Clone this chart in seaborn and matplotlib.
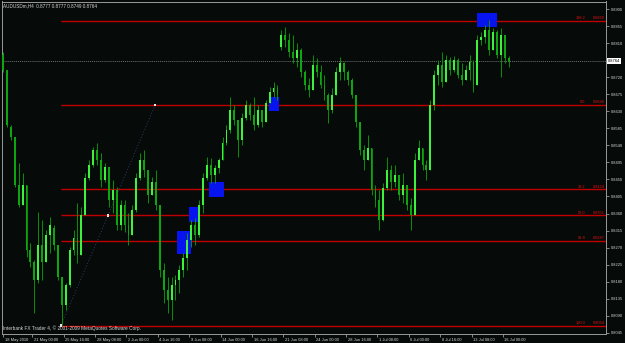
import matplotlib
matplotlib.use("Agg")
import matplotlib.pyplot as plt
import matplotlib.transforms as mtrans
from matplotlib.patches import Rectangle
import numpy as np
import pandas as pd
import seaborn as sns

# ---------------- data ----------------
symbol_title = "AUDUSDm,H4  0.8777 0.8777 0.8749 0.8764"
copyright_text = "Interbank FX Trader 4, \u00a9 2001-2009 MetaQuotes Software Corp."

bar_number = list(range(0, 260, 2))  # H4 bar position of each candle

highs = [0.8787, 0.8739, 0.8594, 0.8562, 0.8494, 0.8467, 0.8436, 0.8282, 0.8238, 0.8364,
         0.8343, 0.8317, 0.8351, 0.8330, 0.8277, 0.8193, 0.8177, 0.8272, 0.8317, 0.8388,
         0.8378, 0.8467, 0.8502, 0.8536, 0.8546, 0.8520, 0.8494, 0.8483, 0.8449, 0.8430,
         0.8396, 0.8396, 0.8362, 0.8383, 0.8467, 0.8520, 0.8528, 0.8475, 0.8457, 0.8475,
         0.8383, 0.8230, 0.8193, 0.8193, 0.8198, 0.8225, 0.8256, 0.8309, 0.8343, 0.8348,
         0.8396, 0.8467, 0.8510, 0.8507, 0.8488, 0.8507, 0.8562, 0.8594, 0.8668, 0.8647,
         0.8607, 0.8626, 0.8660, 0.8652, 0.8668, 0.8647, 0.8634, 0.8660, 0.8694, 0.8708,
         0.8700, 0.8845, 0.8853, 0.8837, 0.8832, 0.8811, 0.8797, 0.8739, 0.8718, 0.8779,
         0.8771, 0.8752, 0.8726, 0.8679, 0.8692, 0.8747, 0.8774, 0.8761, 0.8739, 0.8718,
         0.8673, 0.8602, 0.8541, 0.8568, 0.8533, 0.8436, 0.8422, 0.8441, 0.8510, 0.8488,
         0.8488, 0.8462, 0.8467, 0.8436, 0.8401, 0.8520, 0.8554, 0.8533, 0.8502, 0.8660,
         0.8739, 0.8766, 0.8787, 0.8779, 0.8774, 0.8776, 0.8771, 0.8758, 0.8752, 0.8779,
         0.8766, 0.8832, 0.8840, 0.8858, 0.8871, 0.8850, 0.8845, 0.8850, 0.8832, 0.8777]
lows = [0.8734, 0.8589, 0.8554, 0.8430, 0.8378, 0.8383, 0.8246, 0.8219, 0.8098, 0.8177,
        0.8185, 0.8232, 0.8256, 0.8264, 0.8185, 0.8066, 0.8106, 0.8166, 0.8251, 0.8230,
        0.8251, 0.8356, 0.8449, 0.8483, 0.8488, 0.8430, 0.8444, 0.8378, 0.8362, 0.8317,
        0.8317, 0.8312, 0.8277, 0.8304, 0.8364, 0.8449, 0.8457, 0.8388, 0.8409, 0.8370,
        0.8193, 0.8124, 0.8098, 0.8079, 0.8132, 0.8150, 0.8193, 0.8211, 0.8272, 0.8277,
        0.8298, 0.8362, 0.8449, 0.8441, 0.8441, 0.8467, 0.8502, 0.8541, 0.8573, 0.8594,
        0.8510, 0.8541, 0.8607, 0.8607, 0.8581, 0.8589, 0.8589, 0.8602, 0.8652, 0.8668,
        0.8660, 0.8792, 0.8800, 0.8774, 0.8758, 0.8747, 0.8721, 0.8686, 0.8668, 0.8686,
        0.8721, 0.8692, 0.8660, 0.8599, 0.8626, 0.8673, 0.8713, 0.8713, 0.8700, 0.8665,
        0.8589, 0.8515, 0.8475, 0.8502, 0.8409, 0.8378, 0.8317, 0.8340, 0.8422, 0.8422,
        0.8430, 0.8396, 0.8388, 0.8370, 0.8317, 0.8356, 0.8502, 0.8475, 0.8449, 0.8475,
        0.8634, 0.8700, 0.8694, 0.8708, 0.8726, 0.8734, 0.8718, 0.8700, 0.8713, 0.8713,
        0.8681, 0.8700, 0.8805, 0.8811, 0.8779, 0.8792, 0.8771, 0.8721, 0.8758, 0.8747]
opens = [0.8779, 0.8739, 0.8589, 0.8562, 0.8436, 0.8383, 0.8436, 0.8264, 0.8232, 0.8185,
         0.8277, 0.8232, 0.8304, 0.8322, 0.8277, 0.8193, 0.8119, 0.8172, 0.8264, 0.8296,
         0.8251, 0.8356, 0.8454, 0.8488, 0.8528, 0.8502, 0.8449, 0.8483, 0.8396, 0.8422,
         0.8330, 0.8383, 0.8330, 0.8304, 0.8370, 0.8454, 0.8502, 0.8475, 0.8409, 0.8444,
         0.8383, 0.8211, 0.8158, 0.8132, 0.8172, 0.8185, 0.8211, 0.8243, 0.8290, 0.8330,
         0.8304, 0.8383, 0.8454, 0.8488, 0.8462, 0.8480, 0.8502, 0.8546, 0.8581, 0.8634,
         0.8607, 0.8554, 0.8612, 0.8647, 0.8620, 0.8594, 0.8634, 0.8602, 0.8652, 0.8681,
         0.8692, 0.8800, 0.8832, 0.8818, 0.8787, 0.8771, 0.8792, 0.8734, 0.8700, 0.8686,
         0.8752, 0.8734, 0.8700, 0.8673, 0.8634, 0.8673, 0.8734, 0.8758, 0.8734, 0.8713,
         0.8673, 0.8602, 0.8528, 0.8502, 0.8533, 0.8422, 0.8396, 0.8343, 0.8428, 0.8475,
         0.8444, 0.8462, 0.8409, 0.8436, 0.8383, 0.8356, 0.8502, 0.8533, 0.8488, 0.8475,
         0.8647, 0.8726, 0.8752, 0.8708, 0.8766, 0.8739, 0.8766, 0.8726, 0.8713, 0.8739,
         0.8760, 0.8700, 0.8818, 0.8826, 0.8845, 0.8792, 0.8840, 0.8779, 0.8832, 0.8771]
closes = [0.8739, 0.8594, 0.8562, 0.8436, 0.8383, 0.8436, 0.8264, 0.8232, 0.8185, 0.8277,
          0.8232, 0.8304, 0.8330, 0.8277, 0.8193, 0.8119, 0.8172, 0.8264, 0.8296, 0.8251,
          0.8356, 0.8454, 0.8488, 0.8528, 0.8502, 0.8449, 0.8483, 0.8396, 0.8422, 0.8330,
          0.8383, 0.8330, 0.8304, 0.8370, 0.8454, 0.8502, 0.8475, 0.8409, 0.8444, 0.8383,
          0.8211, 0.8158, 0.8132, 0.8172, 0.8185, 0.8211, 0.8243, 0.8290, 0.8330, 0.8304,
          0.8383, 0.8454, 0.8488, 0.8462, 0.8480, 0.8502, 0.8546, 0.8581, 0.8634, 0.8607,
          0.8554, 0.8612, 0.8647, 0.8620, 0.8594, 0.8634, 0.8602, 0.8652, 0.8681, 0.8692,
          0.8673, 0.8832, 0.8818, 0.8787, 0.8771, 0.8792, 0.8734, 0.8700, 0.8686, 0.8752,
          0.8734, 0.8700, 0.8673, 0.8634, 0.8673, 0.8734, 0.8758, 0.8734, 0.8713, 0.8673,
          0.8602, 0.8528, 0.8502, 0.8533, 0.8422, 0.8396, 0.8343, 0.8428, 0.8475, 0.8444,
          0.8462, 0.8409, 0.8436, 0.8383, 0.8356, 0.8502, 0.8533, 0.8488, 0.8475, 0.8647,
          0.8726, 0.8752, 0.8708, 0.8766, 0.8739, 0.8766, 0.8726, 0.8713, 0.8739, 0.8760,
          0.8700, 0.8818, 0.8826, 0.8845, 0.8792, 0.8840, 0.8779, 0.8832, 0.8771, 0.8764]

price_ticks = [0.8900, 0.8855, 0.8810, 0.8720, 0.8675, 0.8630, 0.8585, 0.8540, 0.8495,
               0.8450, 0.8405, 0.8360, 0.8315, 0.8270, 0.8225, 0.8180, 0.8135, 0.8090, 0.8045]
time_tick_bars = [0, 15, 31, 47, 63, 79, 95, 111, 127, 143, 159, 175, 191, 207, 223, 239, 255]
time_tick_labels = ["18 May 2010", "21 May 00:00", "25 May 16:00", "28 May 08:00", "2 Jun 00:00",
                    "4 Jun 16:00", "9 Jun 08:00", "14 Jun 00:00", "16 Jun 16:00", "21 Jun 08:00",
                    "24 Jun 00:00", "28 Jun 16:00", "1 Jul 08:00", "6 Jul 00:00", "8 Jul 16:00",
                    "13 Jul 08:00", "16 Jul 00:00"]

fib_levels = ["138.2", "0.0", "38.2", "50.0", "61.8", "100.0"]
fib_prices = [0.8869, 0.8646, 0.8424, 0.8355, 0.8287, 0.8064]
fib_anchor_bars = [29.6, 53.6, 77.6]
fib_anchor_prices = [0.8064, 0.8355, 0.8646]
current_price = 0.8764

zone_bars = [(88.8, 95.9), (94.9, 99.5), (105.1, 112.8), (135.7, 140.8), (241.8, 252.0)]
zone_prices = [(0.8253, 0.8314), (0.8338, 0.8377), (0.8404, 0.8443), (0.8631, 0.8668), (0.8852, 0.8889)]

# ---------------- style ----------------
BG = "#060b09"
FRAME = "#9a9a9a"
TXT = "#d6d6d6"
FIB = "#c00000"

sns.set_theme(style="dark")
plt.rcParams["font.family"] = ["Liberation Sans", "DejaVu Sans"]

df = pd.DataFrame({"bar": bar_number, "open": opens, "high": highs,
                   "low": lows, "close": closes})
df["top"] = df[["open", "high", "low", "close"]].max(axis=1)
df["bot"] = df[["open", "high", "low", "close"]].min(axis=1)
df["bull"] = df["close"] >= df["open"]

W, H = 625, 343
fig = plt.figure(figsize=(W / 100, H / 100), dpi=100, facecolor=BG)
ax = fig.add_axes([2 / W, 1 - 334 / H, 604 / W, 332.5 / H])
ax.set_facecolor(BG)

ax.set_xlim(-0.5, 307.6)
ax.set_ylim(0.80418, 0.89200)

# blue zones
for (x0, x1), (p0, p1) in zip(zone_bars, zone_prices):
    ax.add_patch(Rectangle((x0, p0), x1 - x0, p1 - p0, facecolor="#0814f0",
                           edgecolor="none", zorder=3))

# current price dotted line
ax.axhline(current_price, color="#6e6e6e", lw=0.7, ls=(0, (1, 1)), zorder=1)

# fibonacci levels
ytrans = mtrans.blended_transform_factory(ax.transAxes, ax.transData)
for lvl, p in zip(fib_levels, fib_prices):
    ax.plot([fib_anchor_bars[0], 307.6], [p, p], color=FIB, lw=1.0, zorder=2,
            solid_capstyle="butt", snap=True)
    ax.text(0.966, p + 0.0002, lvl, transform=ytrans,
            ha="right", va="bottom", fontsize=2.8, color="#e01010", zorder=6)
    ax.text(0.998, p + 0.0002, f"{p:.4f}", transform=ytrans,
            ha="right", va="bottom", fontsize=2.8, color="#e01010", zorder=6)

# fib trend line + anchors
trend = pd.DataFrame({"bar": [fib_anchor_bars[0], fib_anchor_bars[-1]],
                      "price": [fib_anchor_prices[0], fib_anchor_prices[-1]]})
sns.lineplot(data=trend, x="bar", y="price", ax=ax, color="#2c3a60", lw=0.7,
             linestyle=(0, (1, 2)), zorder=2)
anchors = pd.DataFrame({"bar": fib_anchor_bars, "price": fib_anchor_prices})
sns.scatterplot(data=anchors, x="bar", y="price", ax=ax, marker="s", s=2.5,
                color="#e8e8e8", edgecolor="none", zorder=7)

# candles
ax.vlines(df["bar"], df["bot"], df["top"], color="#0b8f0b", lw=0.7, zorder=4)
bodies = np.maximum((df["close"] - df["open"]).abs(), 0.00018)
body_bot = df[["open", "close"]].min(axis=1)
colors = np.where(df["bull"], "#3cf23c", "#0ea60e")
ax.bar(df["bar"], bodies, bottom=body_bot, width=0.95, color=colors,
       edgecolor="none", zorder=5)

# frame
for s in ax.spines.values():
    s.set_visible(True)
    s.set_color(FRAME)
    s.set_linewidth(0.7)

# axes ticks
ax.yaxis.tick_right()
ax.set_yticks(price_ticks)
ax.set_yticklabels([f"{v:.4f}" for v in price_ticks])
ax.tick_params(axis="y", direction="out", length=2.2, width=0.6, color=FRAME,
               labelcolor=TXT, labelsize=2.9, pad=1.2, right=True, left=False)
ax.set_xticks(time_tick_bars)
ax.set_xticklabels(time_tick_labels)
ax.tick_params(axis="x", direction="out", length=2.2, width=0.6, color=FRAME,
               labelcolor=TXT, labelsize=2.9, pad=0.6, bottom=True)
offset = mtrans.ScaledTranslation(1.6 / 100, 0, fig.dpi_scale_trans)
for lab in ax.get_xticklabels():
    lab.set_horizontalalignment("left")
    lab.set_transform(lab.get_transform() + offset)
ax.set_xlabel("")
ax.set_ylabel("")
ax.grid(False)

# current price label
ax.text(1.003, current_price, f"{current_price:.4f}", transform=ytrans,
        ha="left", va="center", fontsize=2.9, color="black", zorder=8, clip_on=False,
        bbox=dict(facecolor="white", edgecolor="none", pad=0.7))

# title and copyright
fig.text(3 / W, 1 - 5.5 / H, symbol_title, ha="left", va="center", fontsize=3.3, color=TXT)
fig.text(3 / W, 1 - 328.5 / H, copyright_text, ha="left", va="center", fontsize=3.4, color=TXT)

fig.savefig("out.png", dpi=100, facecolor=BG)
